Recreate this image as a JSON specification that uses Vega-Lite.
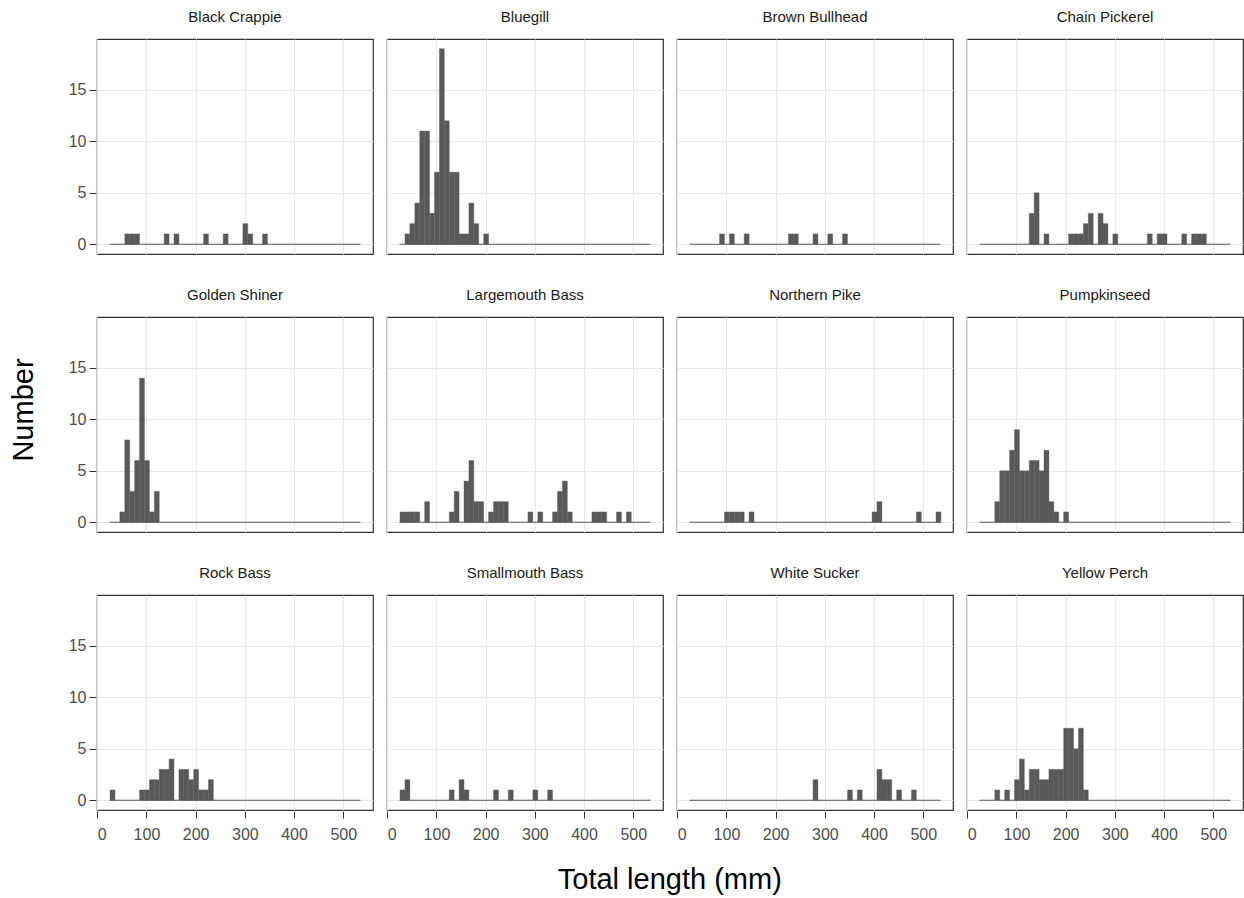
{
  "$schema": "https://vega.github.io/schema/vega-lite/v6.json",
  "background": "white",
  "padding": {"left": 9, "right": 0, "top": 9, "bottom": 4},
  "data": {"values": [
    {"sp":"Black Crappie","lo":55,"hi":65,"n":1},
    {"sp":"Black Crappie","lo":65,"hi":75,"n":1},
    {"sp":"Black Crappie","lo":75,"hi":85,"n":1},
    {"sp":"Black Crappie","lo":135,"hi":145,"n":1},
    {"sp":"Black Crappie","lo":155,"hi":165,"n":1},
    {"sp":"Black Crappie","lo":215,"hi":225,"n":1},
    {"sp":"Black Crappie","lo":255,"hi":265,"n":1},
    {"sp":"Black Crappie","lo":295,"hi":305,"n":2},
    {"sp":"Black Crappie","lo":305,"hi":315,"n":1},
    {"sp":"Black Crappie","lo":335,"hi":345,"n":1},
    {"sp":"Bluegill","lo":35,"hi":45,"n":1},
    {"sp":"Bluegill","lo":45,"hi":55,"n":2},
    {"sp":"Bluegill","lo":55,"hi":65,"n":4},
    {"sp":"Bluegill","lo":65,"hi":75,"n":11},
    {"sp":"Bluegill","lo":75,"hi":85,"n":11},
    {"sp":"Bluegill","lo":85,"hi":95,"n":3},
    {"sp":"Bluegill","lo":95,"hi":105,"n":7},
    {"sp":"Bluegill","lo":105,"hi":115,"n":19},
    {"sp":"Bluegill","lo":115,"hi":125,"n":12},
    {"sp":"Bluegill","lo":125,"hi":135,"n":7},
    {"sp":"Bluegill","lo":135,"hi":145,"n":7},
    {"sp":"Bluegill","lo":145,"hi":155,"n":1},
    {"sp":"Bluegill","lo":155,"hi":165,"n":1},
    {"sp":"Bluegill","lo":165,"hi":175,"n":4},
    {"sp":"Bluegill","lo":175,"hi":185,"n":2},
    {"sp":"Bluegill","lo":195,"hi":205,"n":1},
    {"sp":"Brown Bullhead","lo":85,"hi":95,"n":1},
    {"sp":"Brown Bullhead","lo":105,"hi":115,"n":1},
    {"sp":"Brown Bullhead","lo":135,"hi":145,"n":1},
    {"sp":"Brown Bullhead","lo":225,"hi":235,"n":1},
    {"sp":"Brown Bullhead","lo":235,"hi":245,"n":1},
    {"sp":"Brown Bullhead","lo":275,"hi":285,"n":1},
    {"sp":"Brown Bullhead","lo":305,"hi":315,"n":1},
    {"sp":"Brown Bullhead","lo":335,"hi":345,"n":1},
    {"sp":"Chain Pickerel","lo":125,"hi":135,"n":3},
    {"sp":"Chain Pickerel","lo":135,"hi":145,"n":5},
    {"sp":"Chain Pickerel","lo":155,"hi":165,"n":1},
    {"sp":"Chain Pickerel","lo":205,"hi":215,"n":1},
    {"sp":"Chain Pickerel","lo":215,"hi":225,"n":1},
    {"sp":"Chain Pickerel","lo":225,"hi":235,"n":1},
    {"sp":"Chain Pickerel","lo":235,"hi":245,"n":2},
    {"sp":"Chain Pickerel","lo":245,"hi":255,"n":3},
    {"sp":"Chain Pickerel","lo":265,"hi":275,"n":3},
    {"sp":"Chain Pickerel","lo":275,"hi":285,"n":2},
    {"sp":"Chain Pickerel","lo":295,"hi":305,"n":1},
    {"sp":"Chain Pickerel","lo":365,"hi":375,"n":1},
    {"sp":"Chain Pickerel","lo":385,"hi":395,"n":1},
    {"sp":"Chain Pickerel","lo":395,"hi":405,"n":1},
    {"sp":"Chain Pickerel","lo":435,"hi":445,"n":1},
    {"sp":"Chain Pickerel","lo":455,"hi":465,"n":1},
    {"sp":"Chain Pickerel","lo":465,"hi":475,"n":1},
    {"sp":"Chain Pickerel","lo":475,"hi":485,"n":1},
    {"sp":"Golden Shiner","lo":45,"hi":55,"n":1},
    {"sp":"Golden Shiner","lo":55,"hi":65,"n":8},
    {"sp":"Golden Shiner","lo":65,"hi":75,"n":3},
    {"sp":"Golden Shiner","lo":75,"hi":85,"n":6},
    {"sp":"Golden Shiner","lo":85,"hi":95,"n":14},
    {"sp":"Golden Shiner","lo":95,"hi":105,"n":6},
    {"sp":"Golden Shiner","lo":105,"hi":115,"n":1},
    {"sp":"Golden Shiner","lo":115,"hi":125,"n":3},
    {"sp":"Largemouth Bass","lo":25,"hi":35,"n":1},
    {"sp":"Largemouth Bass","lo":35,"hi":45,"n":1},
    {"sp":"Largemouth Bass","lo":45,"hi":55,"n":1},
    {"sp":"Largemouth Bass","lo":55,"hi":65,"n":1},
    {"sp":"Largemouth Bass","lo":75,"hi":85,"n":2},
    {"sp":"Largemouth Bass","lo":125,"hi":135,"n":1},
    {"sp":"Largemouth Bass","lo":135,"hi":145,"n":3},
    {"sp":"Largemouth Bass","lo":155,"hi":165,"n":4},
    {"sp":"Largemouth Bass","lo":165,"hi":175,"n":6},
    {"sp":"Largemouth Bass","lo":175,"hi":185,"n":2},
    {"sp":"Largemouth Bass","lo":185,"hi":195,"n":2},
    {"sp":"Largemouth Bass","lo":205,"hi":215,"n":1},
    {"sp":"Largemouth Bass","lo":215,"hi":225,"n":2},
    {"sp":"Largemouth Bass","lo":225,"hi":235,"n":2},
    {"sp":"Largemouth Bass","lo":235,"hi":245,"n":2},
    {"sp":"Largemouth Bass","lo":285,"hi":295,"n":1},
    {"sp":"Largemouth Bass","lo":305,"hi":315,"n":1},
    {"sp":"Largemouth Bass","lo":335,"hi":345,"n":1},
    {"sp":"Largemouth Bass","lo":345,"hi":355,"n":3},
    {"sp":"Largemouth Bass","lo":355,"hi":365,"n":4},
    {"sp":"Largemouth Bass","lo":365,"hi":375,"n":1},
    {"sp":"Largemouth Bass","lo":415,"hi":425,"n":1},
    {"sp":"Largemouth Bass","lo":425,"hi":435,"n":1},
    {"sp":"Largemouth Bass","lo":435,"hi":445,"n":1},
    {"sp":"Largemouth Bass","lo":465,"hi":475,"n":1},
    {"sp":"Largemouth Bass","lo":485,"hi":495,"n":1},
    {"sp":"Northern Pike","lo":95,"hi":105,"n":1},
    {"sp":"Northern Pike","lo":105,"hi":115,"n":1},
    {"sp":"Northern Pike","lo":115,"hi":125,"n":1},
    {"sp":"Northern Pike","lo":125,"hi":135,"n":1},
    {"sp":"Northern Pike","lo":145,"hi":155,"n":1},
    {"sp":"Northern Pike","lo":395,"hi":405,"n":1},
    {"sp":"Northern Pike","lo":405,"hi":415,"n":2},
    {"sp":"Northern Pike","lo":485,"hi":495,"n":1},
    {"sp":"Northern Pike","lo":525,"hi":535,"n":1},
    {"sp":"Pumpkinseed","lo":55,"hi":65,"n":2},
    {"sp":"Pumpkinseed","lo":65,"hi":75,"n":5},
    {"sp":"Pumpkinseed","lo":75,"hi":85,"n":5},
    {"sp":"Pumpkinseed","lo":85,"hi":95,"n":7},
    {"sp":"Pumpkinseed","lo":95,"hi":105,"n":9},
    {"sp":"Pumpkinseed","lo":105,"hi":115,"n":5},
    {"sp":"Pumpkinseed","lo":115,"hi":125,"n":5},
    {"sp":"Pumpkinseed","lo":125,"hi":135,"n":6},
    {"sp":"Pumpkinseed","lo":135,"hi":145,"n":6},
    {"sp":"Pumpkinseed","lo":145,"hi":155,"n":5},
    {"sp":"Pumpkinseed","lo":155,"hi":165,"n":7},
    {"sp":"Pumpkinseed","lo":165,"hi":175,"n":2},
    {"sp":"Pumpkinseed","lo":175,"hi":185,"n":1},
    {"sp":"Pumpkinseed","lo":195,"hi":205,"n":1},
    {"sp":"Rock Bass","lo":25,"hi":35,"n":1},
    {"sp":"Rock Bass","lo":85,"hi":95,"n":1},
    {"sp":"Rock Bass","lo":95,"hi":105,"n":1},
    {"sp":"Rock Bass","lo":105,"hi":115,"n":2},
    {"sp":"Rock Bass","lo":115,"hi":125,"n":2},
    {"sp":"Rock Bass","lo":125,"hi":135,"n":3},
    {"sp":"Rock Bass","lo":135,"hi":145,"n":3},
    {"sp":"Rock Bass","lo":145,"hi":155,"n":4},
    {"sp":"Rock Bass","lo":165,"hi":175,"n":3},
    {"sp":"Rock Bass","lo":175,"hi":185,"n":3},
    {"sp":"Rock Bass","lo":185,"hi":195,"n":2},
    {"sp":"Rock Bass","lo":195,"hi":205,"n":3},
    {"sp":"Rock Bass","lo":205,"hi":215,"n":1},
    {"sp":"Rock Bass","lo":215,"hi":225,"n":1},
    {"sp":"Rock Bass","lo":225,"hi":235,"n":2},
    {"sp":"Smallmouth Bass","lo":25,"hi":35,"n":1},
    {"sp":"Smallmouth Bass","lo":35,"hi":45,"n":2},
    {"sp":"Smallmouth Bass","lo":125,"hi":135,"n":1},
    {"sp":"Smallmouth Bass","lo":145,"hi":155,"n":2},
    {"sp":"Smallmouth Bass","lo":155,"hi":165,"n":1},
    {"sp":"Smallmouth Bass","lo":215,"hi":225,"n":1},
    {"sp":"Smallmouth Bass","lo":245,"hi":255,"n":1},
    {"sp":"Smallmouth Bass","lo":295,"hi":305,"n":1},
    {"sp":"Smallmouth Bass","lo":325,"hi":335,"n":1},
    {"sp":"White Sucker","lo":275,"hi":285,"n":2},
    {"sp":"White Sucker","lo":345,"hi":355,"n":1},
    {"sp":"White Sucker","lo":365,"hi":375,"n":1},
    {"sp":"White Sucker","lo":405,"hi":415,"n":3},
    {"sp":"White Sucker","lo":415,"hi":425,"n":2},
    {"sp":"White Sucker","lo":425,"hi":435,"n":2},
    {"sp":"White Sucker","lo":445,"hi":455,"n":1},
    {"sp":"White Sucker","lo":475,"hi":485,"n":1},
    {"sp":"Yellow Perch","lo":55,"hi":65,"n":1},
    {"sp":"Yellow Perch","lo":75,"hi":85,"n":1},
    {"sp":"Yellow Perch","lo":95,"hi":105,"n":2},
    {"sp":"Yellow Perch","lo":105,"hi":115,"n":4},
    {"sp":"Yellow Perch","lo":115,"hi":125,"n":1},
    {"sp":"Yellow Perch","lo":125,"hi":135,"n":3},
    {"sp":"Yellow Perch","lo":135,"hi":145,"n":3},
    {"sp":"Yellow Perch","lo":145,"hi":155,"n":2},
    {"sp":"Yellow Perch","lo":155,"hi":165,"n":2},
    {"sp":"Yellow Perch","lo":165,"hi":175,"n":3},
    {"sp":"Yellow Perch","lo":175,"hi":185,"n":3},
    {"sp":"Yellow Perch","lo":185,"hi":195,"n":3},
    {"sp":"Yellow Perch","lo":195,"hi":205,"n":7},
    {"sp":"Yellow Perch","lo":205,"hi":215,"n":7},
    {"sp":"Yellow Perch","lo":215,"hi":225,"n":5},
    {"sp":"Yellow Perch","lo":225,"hi":235,"n":7},
    {"sp":"Yellow Perch","lo":235,"hi":245,"n":1}
  ]},
  "title": {"text": "Total length (mm)", "orient": "bottom", "frame": "bounds", "anchor": "middle", "dx": 43, "fontSize": 29, "fontWeight": "normal", "font": "Liberation Sans", "color": "black", "offset": 24},
  "columns": 4,
  "spacing": {"row": 32, "column": 12},
  "facet": {
    "field": "sp", "type": "nominal",
    "header": {
      "title": "Number", "titleOrient": "left", "titleAngle": -90, "titleFontSize": 29, "titleFont": "Liberation Sans", "titleFontWeight": "normal", "titleColor": "black", "titlePadding": 0,
      "labelFontSize": 15, "labelFont": "Liberation Sans", "labelColor": "#1a1a1a", "labelPadding": 14
    }
  },
  "spec": {
    "width": 276,
    "height": 215,
    "layer": [
      {
        "transform": [{"aggregate": [{"op": "count", "as": "cnt"}], "groupby": ["sp"]}],
        "mark": {"type": "rule", "color": "#595959", "strokeWidth": 1.2},
        "encoding": {
          "x": {"datum": 25, "type": "quantitative"},
          "x2": {"datum": 535},
          "y": {"datum": 0, "type": "quantitative"}
        }
      },
      {
        "mark": {"type": "bar", "color": "#595959", "stroke": "#595959", "strokeWidth": 0.4, "binSpacing": 0},
        "encoding": {
          "x": {
            "field": "lo", "type": "quantitative", "bin": "binned",
            "scale": {"domain": [-0.5, 560.5], "nice": false, "zero": false},
            "axis": {
              "title": null,
              "labelPadding": 8,
              "values": [0, 50, 100, 150, 200, 250, 300, 350, 400, 450, 500, 550],
              "labelExpr": "datum.value % 100 === 0 ? datum.value : ''",
              "tickOpacity": {"condition": {"test": "datum.value % 100 === 0", "value": 1}, "value": 0},
              "gridWidth": {"condition": {"test": "datum.value % 100 === 0", "value": 1.1}, "value": 0.6}
            }
          },
          "x2": {"field": "hi"},
          "y": {
            "field": "n", "type": "quantitative",
            "scale": {"domain": [-0.95, 19.95], "nice": false, "zero": false},
            "axis": {
              "title": null,
              "labelPadding": 3,
              "values": [0, 2.5, 5, 7.5, 10, 12.5, 15, 17.5],
              "labelExpr": "datum.value % 5 === 0 ? datum.value : ''",
              "tickOpacity": {"condition": {"test": "datum.value % 5 === 0", "value": 1}, "value": 0},
              "gridWidth": {"condition": {"test": "datum.value % 5 === 0", "value": 1.1}, "value": 0.6}
            }
          }
        }
      }
    ]
  },
  "config": {
    "view": {"stroke": "#333333", "strokeWidth": 1.2},
    "axis": {
      "domain": false,
      "grid": true,
      "gridColor": "#e8e8e8",
      "tickColor": "#333333",
      "tickSize": 7,
      "labelColor": "#4d4d4d",
      "labelFont": "Liberation Sans",
      "labelFontSize": 16
    }
  }
}
